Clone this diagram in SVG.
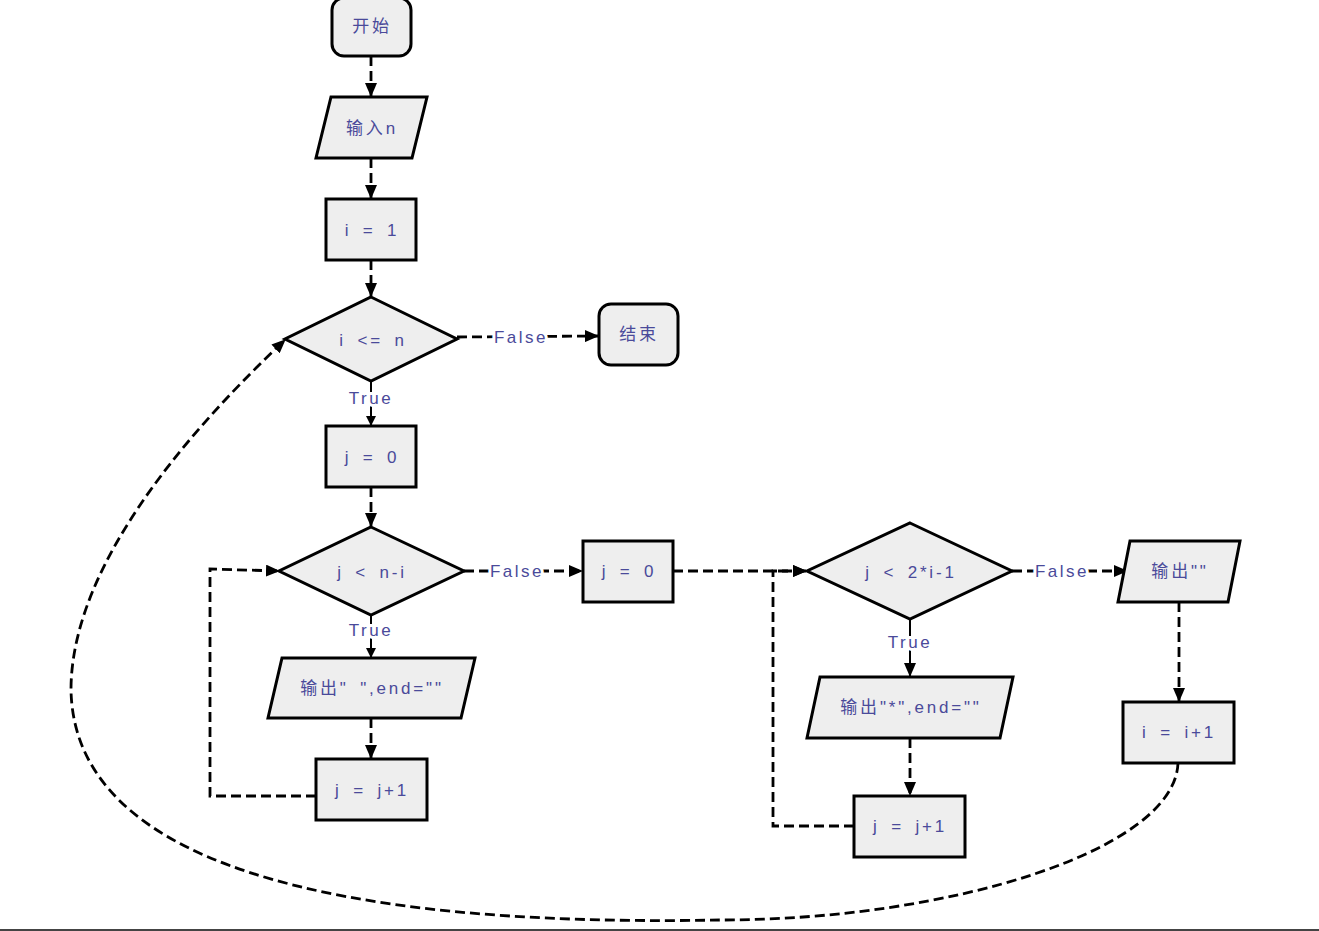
<svg xmlns="http://www.w3.org/2000/svg" width="1319" height="931" viewBox="0 0 1319 931">
<style>
.n{fill:#eeeeee;stroke:#000;stroke-width:3}
.t{font-family:"Liberation Sans","Noto Sans CJK SC",sans-serif;font-size:17px;fill:#4a4a9a;text-anchor:middle;dominant-baseline:central;letter-spacing:2.8px;word-spacing:4px;white-space:pre}
.c{fill:none;stroke:#000;stroke-width:2.8;stroke-dasharray:10 5}
.s{fill:none;stroke:#000;stroke-width:2}
.l{font-family:"Liberation Sans","Noto Sans CJK SC",sans-serif;font-size:17px;fill:#4a4a9a;text-anchor:middle;dominant-baseline:central;letter-spacing:2.5px;stroke:#fff;stroke-width:6;paint-order:stroke}
</style>
<defs>
<marker id="a" markerUnits="userSpaceOnUse" markerWidth="14" markerHeight="12" refX="13" refY="6" orient="auto">
<path d="M0,0 L14,6 L0,12 Z" fill="#000"/>
</marker>
<marker id="b" markerUnits="userSpaceOnUse" markerWidth="10" markerHeight="10" refX="9" refY="5" orient="auto">
<path d="M0,0 L10,5 L0,10 Z" fill="#000"/>
</marker>
</defs>
<rect width="1319" height="931" fill="#fff"/>
<line x1="0" y1="930" x2="1319" y2="930" stroke="#444" stroke-width="2"/>
<g id="connectors">
<line class="c" x1="371" y1="56" x2="371" y2="96" marker-end="url(#a)"/>
<line class="c" x1="371" y1="158" x2="371" y2="198" marker-end="url(#a)"/>
<line class="c" x1="371" y1="260" x2="371" y2="296" marker-end="url(#a)"/>
<line class="c" x1="457" y1="337" x2="598" y2="336" marker-end="url(#a)"/>
<text class="l" x="521" y="337">False</text>
<line class="s" x1="371" y1="381" x2="371" y2="425" marker-end="url(#b)"/>
<text class="l" x="371" y="398">True</text>
<line class="c" x1="371" y1="487" x2="371" y2="526" marker-end="url(#a)"/>
<line class="c" x1="464" y1="571" x2="582" y2="571" marker-end="url(#a)"/>
<text class="l" x="517" y="571">False</text>
<line class="s" x1="371" y1="615" x2="371" y2="657" marker-end="url(#b)"/>
<text class="l" x="371" y="630">True</text>
<line class="c" x1="371" y1="718" x2="371" y2="758" marker-end="url(#a)"/>
<polyline class="c" points="316,796 210,796 210,569 279,571" marker-end="url(#a)"/>
<line class="c" x1="673" y1="571" x2="806" y2="571" marker-end="url(#a)"/>
<polyline class="c" points="854,826 773,826 773,571 806,571" marker-end="url(#a)"/>
<line class="c" x1="1012" y1="571" x2="1127" y2="571" marker-end="url(#a)"/>
<text class="l" x="1062" y="571">False</text>
<line class="s" x1="910" y1="619" x2="910" y2="676" marker-end="url(#a)"/>
<text class="l" x="910" y="642">True</text>
<line class="c" x1="910" y1="738" x2="910" y2="795" marker-end="url(#a)"/>
<line class="c" x1="1179" y1="602" x2="1179" y2="701" marker-end="url(#a)"/>
<path class="c" d="M1178,763 C1175,850 950,920 720,920 C450,925 75,900 71,690 C71,560 200,420 285,340" marker-end="url(#a)"/>
</g>
<g id="start"><rect class="n" x="332" y="-2" width="79" height="58" rx="12"/><text class="t" x="372" y="26">开始</text></g>
<g id="input"><polygon class="n" points="331,97 427,97 412,158 316,158"/><text class="t" x="372" y="128">输入n</text></g>
<g id="i1"><rect class="n" x="326" y="199" width="90" height="61"/><text class="t" x="372" y="230">i = 1</text></g>
<g id="cond1"><polygon class="n" points="371,297 457,339 371,381 285,339"/><text class="t" x="373" y="340">i &lt;= n</text></g>
<g id="end"><rect class="n" x="599" y="304" width="79" height="61" rx="12"/><text class="t" x="639" y="334">结束</text></g>
<g id="j0a"><rect class="n" x="326" y="426" width="90" height="61"/><text class="t" x="372" y="457">j = 0</text></g>
<g id="cond2"><polygon class="n" points="371,527 464,571 371,615 279,571"/><text class="t" x="372" y="572">j &lt; n-i</text></g>
<g id="out1"><polygon class="n" points="282,658 475,658 461,718 268,718"/><text class="t" x="372" y="688">输出" ",end=""</text></g>
<g id="jinc1"><rect class="n" x="316" y="759" width="111" height="61"/><text class="t" x="372" y="790">j = j+1</text></g>
<g id="j0b"><rect class="n" x="583" y="541" width="90" height="61"/><text class="t" x="629" y="571">j = 0</text></g>
<g id="cond3"><polygon class="n" points="910,523 1012,571 910,619 807,571"/><text class="t" x="911" y="572">j &lt; 2*i-1</text></g>
<g id="out2"><polygon class="n" points="820,677 1013,677 1000,738 807,738"/><text class="t" x="911" y="707">输出"*",end=""</text></g>
<g id="jinc2"><rect class="n" x="854" y="796" width="111" height="61"/><text class="t" x="910" y="826">j = j+1</text></g>
<g id="out3"><polygon class="n" points="1130,541 1240,541 1228,602 1118,602"/><text class="t" x="1180" y="571">输出""</text></g>
<g id="iinc"><rect class="n" x="1123" y="702" width="111" height="61"/><text class="t" x="1179" y="732">i = i+1</text></g>
</svg>
